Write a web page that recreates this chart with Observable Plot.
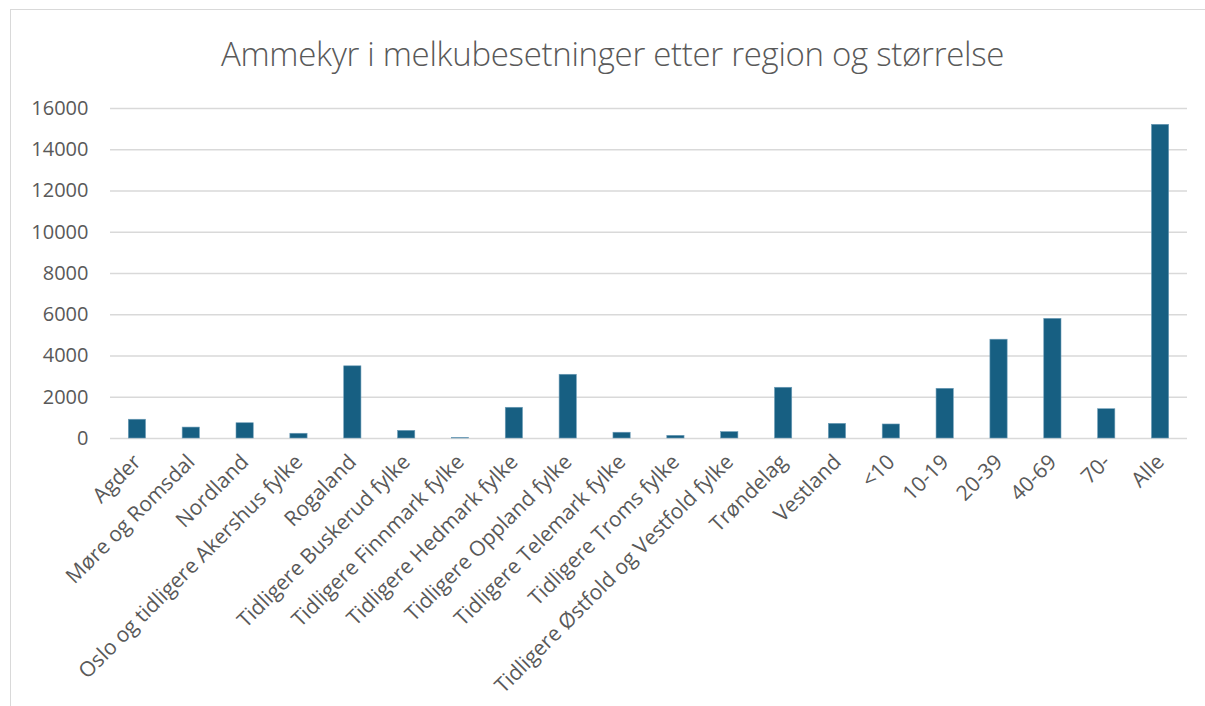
<!DOCTYPE html>
<html>
<head>
<meta charset="utf-8">
<script src="https://cdn.jsdelivr.net/npm/d3@7"></script>
<script src="https://cdn.jsdelivr.net/npm/@observablehq/plot@0.6"></script>
<style>
  html, body { margin: 0; padding: 0; background: #fff; }
  body { width: 1205px; height: 706px; position: relative; overflow: hidden; font-family: "Open Sans", sans-serif; }
  #frame { position: absolute; left: 10px; top: 9px; width: 1300px; height: 800px; border: 1px solid #d9d9d9; box-sizing: border-box; }
  #title { position: absolute; left: 0; width: 1225px; top: 31px; text-align: center; font-size: 33px; font-weight: 300; color: #595959; letter-spacing: -0.3px; }
  #chart { position: absolute; left: 0; top: 0; }
</style>
</head>
<body>
<div id="frame"></div>
<div id="chart"></div>
<div id="title">Ammekyr i melkubesetninger etter region og størrelse</div>
<script>
const categories = [
  "Agder", "Møre og Romsdal", "Nordland", "Oslo og tidligere Akershus fylke", "Rogaland",
  "Tidligere Buskerud fylke", "Tidligere Finnmark fylke", "Tidligere Hedmark fylke",
  "Tidligere Oppland fylke", "Tidligere Telemark fylke", "Tidligere Troms fylke",
  "Tidligere Østfold og Vestfold fylke", "Trøndelag", "Vestland",
  "<10", "10-19", "20-39", "40-69", "70-", "Alle"
];
const values = [
  910, 530, 740, 230, 3500,
  370, 20, 1490,
  3090, 280, 130,
  310, 2460, 710,
  680, 2410, 4790, 5800, 1420, 15210
];
const yTicks = [0, 2000, 4000, 6000, 8000, 10000, 12000, 14000, 16000];

const data = categories.map((c, i) => ({ category: c, value: values[i] }));

const plot = Plot.plot({
  width: 1205,
  height: 706,
  marginTop: 108,
  marginBottom: 268,
  marginLeft: 110,
  marginRight: 18,
  style: { fontFamily: "Open Sans, sans-serif", fontSize: "18px", color: "#595959", background: "transparent" },
  x: { domain: categories, paddingInner: 0.68, paddingOuter: 0.34, round: false, label: null },
  y: { domain: [0, 16000], label: null },
  marks: [
    Plot.gridY(yTicks, { stroke: "#d9d9d9", strokeOpacity: 1, strokeWidth: 1.5 }),
    Plot.axisY(yTicks, { tickSize: 0, tickPadding: 22, label: null, tickFormat: d => String(d), fill: "#595959", fontSize: 20 }),
    Plot.barY(data, { x: "category", y: "value", fill: "#175F82", stroke: "#6e9db8", strokeWidth: 0.6 }),
    Plot.axisX({ tickSize: 0, tickPadding: 20, tickRotate: -45, label: null, fill: "#595959", fontSize: 21 })
  ]
});
document.getElementById("chart").appendChild(plot);
</script>
</body>
</html>
